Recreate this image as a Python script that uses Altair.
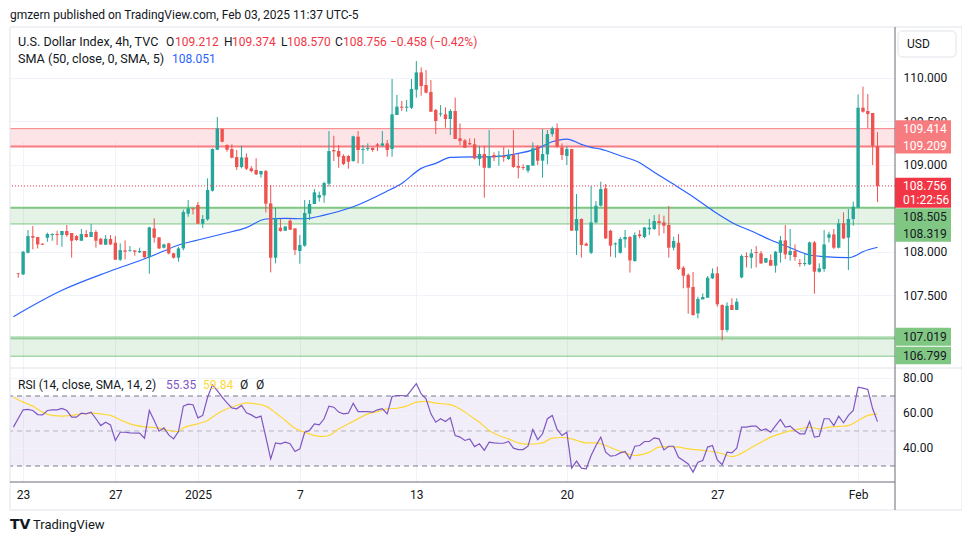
import altair as alt
import numpy as np
import pandas as pd

FONT = "Roboto"
INK = "#131722"
GREY = "#787b86"
GRID = "#f0f3fa"
GREEN = "#26a69a"
RED = "#ef5350"
PRICE_RED = "#f23645"

# ---------------- data ----------------
opens = [107.751, 107.739, 107.988, 108.180, 108.169, 108.092, 108.161, 108.191, 108.203, 108.191,
         108.238, 108.214, 108.180, 108.126, 108.203, 108.169, 108.226, 108.149, 108.080, 108.146,
         108.103, 107.908, 108.015, 108.011, 108.015, 107.992, 108.008, 107.935, 108.268, 108.165,
         108.046, 108.096, 107.981, 107.931, 108.038, 108.437, 108.498, 108.536, 108.322, 108.372,
         108.701, 109.172, 109.410, 109.226, 109.180, 109.088, 108.973, 109.084, 108.958, 108.939,
         108.889, 108.927, 108.555, 107.931, 108.276, 108.241, 108.356, 108.268, 108.008, 108.069,
         108.437, 108.548, 108.621, 108.647, 108.782, 109.169, 109.157, 109.100, 109.100, 109.042,
         109.322, 109.169, 109.180, 109.195, 109.234, 109.218, 109.245, 109.180, 109.571, 109.667,
         109.655, 109.655, 109.862, 110.061, 109.916, 109.835, 109.628, 109.579, 109.579, 109.525,
         109.617, 109.303, 109.280, 109.249, 109.234, 109.065, 109.123, 108.965, 109.111, 109.088,
         109.100, 109.065, 109.111, 108.985, 108.973, 108.931, 108.989, 109.207, 109.046, 109.119,
         109.352, 109.418, 109.199, 109.100, 109.180, 108.241, 108.376, 108.092, 107.988, 108.337,
         108.529, 108.728, 108.241, 108.084, 107.988, 108.142, 108.169, 107.893, 108.199, 108.169,
         108.257, 108.261, 108.352, 108.337, 108.307, 108.046, 108.103, 107.816, 107.732, 107.594,
         107.291, 107.452, 107.471, 107.694, 107.751, 107.387, 107.100, 107.387, 107.330, 107.705,
         107.950, 107.931, 107.996, 107.981, 107.874, 107.904, 107.839, 107.988, 108.130, 107.962,
         108.008, 107.870, 107.858, 107.854, 108.107, 107.770, 107.801, 108.161, 108.199, 108.046,
         108.326, 108.161, 108.376, 108.506, 109.655, 109.617, 109.594, 109.212]
highs = [107.755, 108.008, 108.249, 108.295, 108.169, 108.096, 108.218, 108.211, 108.241, 108.238,
         108.307, 108.214, 108.191, 108.261, 108.249, 108.318, 108.249, 108.161, 108.191, 108.191,
         108.180, 108.096, 108.130, 108.065, 108.019, 108.046, 108.008, 108.287, 108.383, 108.165,
         108.092, 108.103, 107.988, 108.057, 108.483, 108.594, 108.506, 108.571, 108.421, 108.843,
         109.188, 109.548, 109.418, 109.234, 109.234, 109.169, 109.218, 109.130, 108.985, 109.073,
         108.931, 108.939, 108.766, 108.506, 108.376, 108.291, 108.383, 108.268, 108.191, 108.594,
         108.594, 108.720, 108.690, 108.805, 109.387, 109.333, 109.226, 109.119, 109.111, 109.333,
         109.387, 109.226, 109.245, 109.195, 109.249, 109.387, 109.284, 109.985, 109.801, 109.732,
         109.743, 109.985, 110.191, 110.119, 110.088, 109.973, 109.640, 109.686, 109.659, 109.640,
         109.770, 109.475, 109.295, 109.303, 109.303, 109.218, 109.218, 109.398, 109.142, 109.157,
         109.203, 109.176, 109.398, 109.123, 109.004, 108.996, 109.257, 109.226, 109.410, 109.398,
         109.437, 109.475, 109.245, 109.207, 109.180, 108.663, 108.383, 108.107, 108.755, 108.582,
         108.805, 108.778, 108.253, 108.107, 108.169, 108.249, 108.180, 108.222, 108.249, 108.280,
         108.376, 108.421, 108.429, 108.414, 108.525, 108.172, 108.203, 107.835, 107.751, 107.766,
         107.483, 107.521, 107.720, 107.808, 107.828, 107.395, 107.418, 107.464, 107.464, 107.969,
         107.992, 108.031, 108.065, 108.008, 107.927, 107.969, 108.008, 108.180, 108.307, 108.261,
         108.084, 107.916, 107.981, 108.115, 108.123, 107.866, 108.249, 108.230, 108.261, 108.376,
         108.452, 108.490, 108.575, 109.808, 109.897, 109.812, 109.594, 109.374]
lows = [107.701, 107.732, 107.981, 108.027, 108.038, 108.077, 108.115, 108.126, 108.077, 108.057,
        108.172, 107.931, 108.126, 108.126, 108.161, 108.169, 108.046, 108.077, 108.080, 108.077,
        107.908, 107.893, 107.912, 108.000, 107.954, 107.988, 107.931, 107.747, 108.103, 108.031,
        108.038, 107.969, 107.920, 107.885, 108.015, 108.402, 108.429, 108.322, 108.272, 108.356,
        108.690, 109.169, 109.257, 109.149, 109.073, 108.939, 108.958, 108.939, 108.912, 108.881,
        108.851, 108.452, 107.762, 107.866, 108.230, 108.238, 108.249, 107.962, 107.862, 108.057,
        108.364, 108.548, 108.575, 108.563, 108.747, 109.042, 108.965, 108.996, 108.954, 109.034,
        109.015, 109.008, 109.157, 109.149, 109.157, 109.207, 109.092, 109.092, 109.571, 109.617,
        109.609, 109.640, 109.770, 109.793, 109.820, 109.609, 109.352, 109.552, 109.425, 109.341,
        109.295, 109.226, 109.195, 109.226, 109.061, 108.989, 108.621, 108.958, 109.042, 108.989,
        109.034, 109.054, 108.965, 108.843, 108.939, 108.908, 108.989, 108.996, 108.851, 109.004,
        109.322, 109.195, 109.054, 108.996, 108.241, 107.962, 107.931, 108.069, 107.973, 108.326,
        108.517, 108.146, 107.943, 107.931, 107.977, 108.046, 107.759, 107.885, 108.153, 108.153,
        108.191, 108.249, 108.184, 108.211, 107.931, 108.015, 107.789, 107.579, 107.287, 107.264,
        107.234, 107.452, 107.471, 107.686, 107.368, 106.981, 107.073, 107.330, 107.330, 107.694,
        107.820, 107.808, 107.820, 107.858, 107.874, 107.839, 107.759, 107.874, 107.916, 107.897,
        107.897, 107.828, 107.835, 107.847, 107.517, 107.759, 107.770, 108.107, 108.031, 108.038,
        108.146, 107.789, 108.299, 108.506, 109.598, 109.418, 108.996, 108.570]
closes = [107.743, 108.000, 108.180, 108.161, 108.084, 108.080, 108.203, 108.203, 108.191, 108.238,
          108.191, 108.126, 108.134, 108.203, 108.169, 108.226, 108.126, 108.084, 108.149, 108.084,
          107.908, 108.019, 108.000, 108.019, 108.000, 108.008, 107.935, 108.280, 108.161, 108.038,
          108.084, 107.981, 107.931, 108.038, 108.456, 108.498, 108.487, 108.322, 108.376, 108.709,
          109.180, 109.418, 109.264, 109.172, 109.080, 108.973, 109.084, 108.954, 108.927, 108.889,
          108.927, 108.552, 107.931, 108.383, 108.238, 108.291, 108.253, 108.019, 108.077, 108.444,
          108.548, 108.682, 108.651, 108.789, 109.157, 109.153, 109.092, 109.008, 109.034, 109.326,
          109.169, 109.180, 109.191, 109.169, 109.218, 109.245, 109.169, 109.579, 109.667, 109.655,
          109.667, 109.870, 110.061, 109.904, 109.828, 109.609, 109.502, 109.590, 109.525, 109.617,
          109.295, 109.272, 109.195, 109.234, 109.073, 109.123, 108.965, 109.100, 109.084, 109.103,
          109.084, 109.115, 108.973, 108.965, 108.962, 108.996, 109.188, 109.046, 109.123, 109.352,
          109.418, 109.207, 109.111, 109.180, 108.241, 108.376, 108.077, 108.069, 108.337, 108.529,
          108.720, 108.153, 108.069, 108.096, 108.146, 108.169, 107.900, 108.191, 108.180, 108.280,
          108.276, 108.352, 108.330, 108.299, 108.046, 108.123, 107.801, 107.724, 107.586, 107.272,
          107.456, 107.479, 107.701, 107.751, 107.395, 107.100, 107.379, 107.330, 107.425, 107.950,
          107.939, 107.981, 107.985, 107.866, 107.927, 107.839, 108.000, 108.130, 107.969, 108.008,
          107.939, 107.858, 107.870, 108.107, 107.770, 107.808, 108.084, 108.199, 108.046, 108.326,
          108.153, 108.376, 108.517, 109.655, 109.609, 109.582, 109.218, 108.756]

sma_i = [-1, 9, 19, 27, 30, 33, 37, 42, 47, 51, 55, 59, 63, 69, 76, 79, 83, 86, 89, 91, 98, 102,
         107, 110, 113, 116, 118, 120, 124, 128, 131, 135, 139, 143, 148, 151, 155, 159, 163, 166,
         171, 172, 174, 177]
sma_v = [107.253, 107.556, 107.778, 107.939, 108.008, 108.077, 108.134, 108.203, 108.276, 108.376,
         108.383, 108.379, 108.421, 108.517, 108.697, 108.785, 108.958, 109.015, 109.084, 109.088,
         109.092, 109.119, 109.188, 109.264, 109.295, 109.234, 109.199, 109.180, 109.103, 109.023,
         108.912, 108.774, 108.632, 108.475, 108.307, 108.238, 108.134, 108.046, 107.962, 107.943,
         107.931, 107.943, 108.000, 108.051]

rsi_i = [-1, 1, 2, 3, 4, 5, 6, 7, 8, 9, 10, 11, 12, 13, 14, 15, 16, 17, 18, 19, 20, 21, 22, 23,
         25, 26, 27, 28, 29, 30, 31, 32, 33, 34, 35, 36, 37, 38, 39, 40, 41, 42, 43, 44, 45, 46,
         47, 48, 49, 50, 51, 52, 53, 54, 55, 56, 57, 58, 59, 60, 61, 62, 63, 64, 65, 66, 67, 68,
         69, 70, 71, 72, 73, 74, 75, 76, 77, 78, 79, 80, 81, 82, 83, 84, 85, 86, 87, 88, 89, 90,
         91, 92, 93, 94, 95, 96, 97, 98, 99, 100, 101, 102, 103, 104, 105, 106, 107, 108, 109,
         110, 111, 112, 113, 114, 115, 116, 117, 118, 119, 120, 121, 122, 123, 124, 125, 126, 127,
         128, 129, 130, 131, 132, 133, 134, 135, 136, 137, 138, 139, 140, 141, 142, 143, 144, 145,
         146, 147, 148, 149, 150, 151, 152, 153, 154, 155, 156, 157, 158, 159, 160, 161, 162, 163,
         164, 165, 166, 167, 168, 169, 170, 171, 172, 173, 174, 175, 176, 177]
rsi_v = [52.2, 62.1, 62.3, 61.7, 59.4, 59.2, 61.7, 62.1, 62.1, 62.9, 61.7, 57.9, 57.9, 60.2, 59.8,
         60.8, 57.0, 53.1, 55.0, 53.5, 44.6, 49.3, 49.3, 48.9, 48.8, 45.9, 61.7, 56.0, 49.9, 51.8,
         47.8, 45.5, 49.7, 64.2, 65.3, 65.0, 57.5, 58.9, 69.3, 76.4, 73.1, 69.3, 66.1, 63.2, 62.7,
         64.6, 60.4, 59.2, 57.5, 58.5, 46.5, 34.1, 43.2, 42.7, 43.6, 42.7, 38.3, 39.8, 49.3, 50.3,
         54.1, 53.5, 57.0, 64.2, 63.6, 60.8, 59.8, 60.2, 65.9, 61.1, 61.1, 61.1, 60.8, 62.1, 62.7,
         59.8, 69.7, 70.3, 70.3, 69.9, 73.5, 77.0, 71.2, 68.4, 59.8, 55.0, 57.0, 55.4, 57.5, 47.4,
         46.5, 44.6, 45.5, 41.1, 42.7, 38.9, 43.6, 43.2, 43.0, 43.0, 44.0, 40.2, 39.4, 39.4, 41.3,
         50.9, 45.1, 48.4, 57.0, 58.9, 50.9, 47.4, 49.3, 28.8, 32.8, 28.8, 28.4, 36.0, 41.7, 46.5,
         37.9, 35.6, 36.0, 37.5, 38.3, 34.1, 41.3, 41.7, 44.0, 44.0, 46.1, 45.5, 39.2, 41.3, 41.3,
         35.0, 33.1, 31.2, 26.5, 32.2, 33.1, 40.8, 41.7, 33.5, 30.7, 37.9, 37.5, 40.2, 52.2, 52.2,
         52.8, 52.8, 50.3, 51.2, 49.3, 53.1, 56.6, 52.2, 52.8, 50.3, 48.4, 48.4, 55.4, 46.5, 47.0,
         57.0, 57.0, 53.1, 58.5, 54.7, 58.9, 61.7, 75.0, 74.5, 73.7, 62.7, 55.35]

rsima_i = [-1, 1, 3, 5, 7, 9, 11, 13, 15, 17, 19, 21, 23, 26, 29, 31, 33, 34, 37, 39, 41, 43, 45,
           47, 49, 51, 53, 55, 57, 59, 61, 63, 64, 66, 68, 70, 72, 74, 76, 78, 80, 82, 84, 86, 89,
           91, 93, 95, 97, 99, 101, 103, 105, 107, 108, 110, 112, 113, 115, 117, 119, 121, 123,
           125, 127, 130, 132, 134, 136, 138, 141, 143, 145, 147, 148, 150, 153, 155, 158, 161,
           163, 165, 167, 169, 171, 173, 175, 177]
rsima_v = [69.3, 66.5, 64.2, 60.8, 58.9, 58.5, 58.9, 59.8, 60.2, 59.8, 58.9, 56.4, 54.1, 52.4,
           51.6, 50.3, 49.7, 51.8, 54.1, 56.0, 59.8, 62.7, 64.6, 66.1, 65.5, 64.2, 60.4, 56.0,
           51.6, 49.3, 47.4, 46.9, 47.4, 51.2, 54.1, 57.0, 59.8, 61.1, 62.7, 63.0, 64.2, 66.5,
           66.9, 65.9, 65.1, 62.6, 58.9, 55.0, 50.3, 47.4, 45.5, 43.2, 42.5, 42.7, 43.2, 45.9,
           46.3, 46.1, 44.6, 43.2, 43.2, 41.7, 39.4, 37.5, 36.0, 37.9, 40.8, 41.1, 40.8, 39.8,
           38.9, 38.3, 37.0, 35.4, 36.0, 38.9, 43.6, 46.5, 49.3, 51.2, 52.2, 51.2, 52.2, 52.6,
           53.1, 56.0, 58.9, 59.84]

date_pos = [1, 20, 37, 58, 82, 113, 144, 173]
date_lab = ["23", "27", "2025", "7", "13", "20", "27", "Feb"]
price_ticks = [107.0, 107.5, 108.0, 108.5, 109.0, 109.5, 110.0]
price_hidden = [107.0, 108.5]          # labels covered by the level tags in the reference
rsi_ticks = [40, 60, 80]
rsi_bounds = [70, 30]
rsi_mid = [50]

red_zone = [109.209, 109.414]
green_zone = [108.319, 108.505]
green_zone2 = [106.799, 107.019]
red_lines = [109.414, 109.209]
green_lines = [108.505, 108.319, 107.019, 107.0, 106.799]
last_price = 108.756
countdown = "01:22:56"
label_prices = [109.414, 109.209, 108.756, 108.505, 108.319, 107.019, 106.799]

# ---------------- layout ----------------
W, H = 885, 454
PANE = 340
X_DOMAIN = [-0.672, 179.57]
P_DOMAIN = [106.6632, 110.5713]
R_DOMAIN = [20.857, 86.0]

xs = alt.Scale(domain=X_DOMAIN, nice=False, zero=False)
ps = alt.Scale(domain=P_DOMAIN, range=[PANE, 0], nice=False, zero=False)
rs = alt.Scale(domain=R_DOMAIN, range=[H, PANE], nice=False, zero=False)

lab_expr = " : ".join(f"datum.value == {p} ? '{l}'" for p, l in zip(date_pos, date_lab)) + " : ''"
hide_expr = " || ".join(f"abs(datum.value - {v}) < 0.001" for v in price_hidden)
p_lab_expr = f"({hide_expr}) ? '' : format(datum.value, '.3f')"

x_axis = alt.Axis(values=date_pos, labelExpr=lab_expr, grid=True, gridColor=GRID, domain=False,
                  ticks=False, tickSize=0, labelPadding=7, labelFont=FONT, labelFontSize=12,
                  labelColor=INK, labelFlush=False, labelOverlap=False, orient="bottom")
p_axis = alt.Axis(values=price_ticks, labelExpr=p_lab_expr, orient="right", grid=True,
                  gridColor=GRID, domain=False, ticks=False, tickSize=0, labelPadding=8,
                  labelFont=FONT, labelFontSize=12, labelColor=INK, labelAlign="left",
                  labelBaseline="middle")

X = alt.X("i:Q", scale=xs, axis=x_axis, title=None)


def YP(f, axis=None):
    return alt.Y(f"{f}:Q", scale=ps, axis=axis, title=None)


def YR(f):
    return alt.Y(f"{f}:Q", scale=rs, axis=None, title=None)


def one():
    return alt.Chart(pd.DataFrame({"d": [0]}))


def txt(s, x, y, color=INK, size=12, align="left", weight="normal", font=FONT):
    return one().mark_text(text=s, align=align, baseline="middle", color=color, fontSize=size,
                           fontWeight=weight, font=font).encode(x=alt.value(x), y=alt.value(y))


def prule(x1, x2, y1, y2, color, width=1):
    return one().mark_rule(color=color, strokeWidth=width).encode(
        x=alt.value(x1), x2=alt.value(x2), y=alt.value(y1), y2=alt.value(y2))


layers = []

# zones
for lo_hi, col, op in [(red_zone, PRICE_RED, 0.13), (green_zone, "#4caf50", 0.15),
                       (green_zone2, "#4caf50", 0.15)]:
    layers.append(alt.Chart(pd.DataFrame({"lo": [lo_hi[0]], "hi": [lo_hi[1]]})).mark_rect(
        color=col, opacity=op).encode(x=alt.value(0), x2=alt.value(W), y=YP("hi"), y2="lo"))

# RSI band, grid, levels
layers.append(alt.Chart(pd.DataFrame({"a": [rsi_bounds[0]], "b": [rsi_bounds[1]]})).mark_rect(
    color="#7e57c2", opacity=0.1).encode(x=alt.value(0), x2=alt.value(W), y=YR("a"), y2="b"))
layers.append(alt.Chart(pd.DataFrame({"v": rsi_ticks})).mark_rule(color=GRID, strokeWidth=1)
              .encode(y=YR("v")))
layers.append(alt.Chart(pd.DataFrame({"v": rsi_bounds})).mark_rule(
    color=GREY, strokeWidth=1, strokeDash=[5, 4]).encode(y=YR("v")))
layers.append(alt.Chart(pd.DataFrame({"v": rsi_mid})).mark_rule(
    color=GREY, strokeWidth=1, strokeDash=[5, 4], opacity=0.5).encode(y=YR("v")))

# zone lines
for vals, col in [(red_lines, "#f77c80"), (green_lines, "#81c784")]:
    widths = []
    for v in vals:
        widths.append(2 if v in (109.209, 108.505) else 1)
    for wv in sorted(set(widths)):
        sel = [v for v, w_ in zip(vals, widths) if w_ == wv]
        layers.append(alt.Chart(pd.DataFrame({"v": sel})).mark_rule(color=col, strokeWidth=wv)
                      .encode(y=YP("v")))

# SMA
layers.append(alt.Chart(pd.DataFrame({"i": sma_i, "v": sma_v})).mark_line(
    color="#2962ff", strokeWidth=1.2, interpolate="monotone", clip=True).encode(x=X, y=YP("v")))

# candles
cd = pd.DataFrame({"i": np.arange(len(opens)), "o": opens, "h": highs, "l": lows, "c": closes})
cd["dir"] = np.where(cd["c"] >= cd["o"], "up", "down")
col_enc = alt.Color("dir:N", scale=alt.Scale(domain=["up", "down"], range=[GREEN, RED]), legend=None)
layers.append(alt.Chart(cd).mark_rule(strokeWidth=1).encode(
    x=X, y=YP("l", p_axis), y2="h", color=col_enc))
layers.append(alt.Chart(cd).mark_bar(size=3.4).encode(x=X, y=YP("o"), y2="c", color=col_enc))

# last price dotted line
layers.append(alt.Chart(pd.DataFrame({"v": [last_price]})).mark_rule(
    color=PRICE_RED, strokeWidth=1, strokeDash=[1, 2]).encode(y=YP("v")))

# RSI lines
layers.append(alt.Chart(pd.DataFrame({"i": rsima_i, "v": rsima_v})).mark_line(
    color="#fdd835", strokeWidth=1.2, interpolate="monotone", clip=True).encode(x=X, y=YR("v")))
layers.append(alt.Chart(pd.DataFrame({"i": rsi_i, "v": rsi_v})).mark_line(
    color="#7e57c2", strokeWidth=1.2, clip=True).encode(x=X, y=YR("v")))

# frame & separators
layers.append(one().mark_rect(fillOpacity=0, stroke="#e0e3eb", strokeWidth=1).encode(
    x=alt.value(0), x2=alt.value(952), y=alt.value(-1), y2=alt.value(482)))
layers.append(prule(0, 952, PANE, PANE, "#e0e3eb"))
layers.append(prule(W, W, -1, 482, "#6a6d78"))
layers.append(prule(0, W, H, H, "#6a6d78"))

# price labels on axis
label_style = [
    ("#f77c80", "white", -8.5, 8.5, 0.5),
    ("#f77c80", "white", -9.5, 7.0, -0.8),
    (PRICE_RED, "white", -8.2, 21.8, 0.0),
    ("#81c784", INK, 0.5, 17.2, 8.9),
    ("#81c784", INK, 1.1, 17.8, 10.1),
    ("#81c784", INK, -9.3, 8.7, 0.3),
    ("#81c784", INK, -9.5, 8.1, -0.2),
]
for p, (bg, fg, t0, t1, dy) in zip(label_prices, label_style):
    d = alt.Chart(pd.DataFrame({"p": [p], "t": [f"{p:.3f}"]}))
    layers.append(d.mark_rect(color=bg, yOffset=t0, y2Offset=t1).encode(
        x=alt.value(W), x2=alt.value(941), y=YP("p"), y2="p"))
    layers.append(d.mark_text(align="left", baseline="middle", color=fg, fontSize=12, font=FONT,
                              dy=dy).encode(x=alt.value(893), y=YP("p"), text="t:N"))
layers.append(alt.Chart(pd.DataFrame({"p": [last_price], "t": [countdown]})).mark_text(
    align="left", baseline="middle", color="white", fontSize=12, font=FONT, dy=13.6).encode(
    x=alt.value(893), y=YP("p"), text="t:N"))

# RSI axis labels
layers.append(alt.Chart(pd.DataFrame({"v": rsi_ticks, "t": [f"{v:.2f}" for v in rsi_ticks]}))
              .mark_text(align="left", baseline="middle", color=INK, fontSize=12, font=FONT)
              .encode(x=alt.value(893), y=YR("v"), text="t:N"))

# USD button
layers.append(one().mark_rect(fill="white", stroke="#e0e3eb", strokeWidth=1, cornerRadius=4)
              .encode(x=alt.value(888), x2=alt.value(946), y=alt.value(3), y2=alt.value(29)))
layers.append(txt("USD", 897, 16))

# header / legends
layers.append(txt("gmzern published on TradingView.com, Feb 03, 2025 11:37 UTC-5", 0, -13, size=12))
leg1 = [("O", 156, INK), ("109.212", 165, PRICE_RED),
        ("H", 214, INK), ("109.374", 222, PRICE_RED), ("L", 271, INK), ("108.570", 277, PRICE_RED),
        ("C", 325, INK), ("108.756", 333, PRICE_RED), ("\u22120.458 (\u22120.42%)", 380, PRICE_RED)]
layers.append(txt("U.S. Dollar Index, 4h, TVC", 8, 14, size=12.6))
for s, x, c in leg1:
    layers.append(txt(s, x, 14, color=c))
layers.append(txt("SMA (50, close, 0, SMA, 5)", 8, 31, size=12.6))
layers.append(txt("108.051", 162, 31, color="#2962ff"))
layers.append(txt("RSI (14, close, SMA, 14, 2)", 8, 357))
layers.append(txt("55.35", 156, 357, color="#7e57c2"))
layers.append(txt("59.84", 193, 357, color="#fdd835"))
layers.append(txt("\u00d8", 230, 357))
layers.append(txt("\u00d8", 246, 357))

# logo
layers.append(txt("TV", 0, 497, size=14, weight="bold", font="DejaVu Sans"))
layers.append(txt("TradingView", 23, 497, size=13))

chart = alt.layer(*layers).resolve_scale(y="independent").properties(
    width=W, height=H,
    padding={"left": 2, "top": 20, "right": 67, "bottom": 50},
    autosize=alt.AutoSizeParams(type="none"),
    background="white",
).configure_view(stroke=None)

chart.save("out.html", embed_options={"renderer": "svg", "actions": False})
